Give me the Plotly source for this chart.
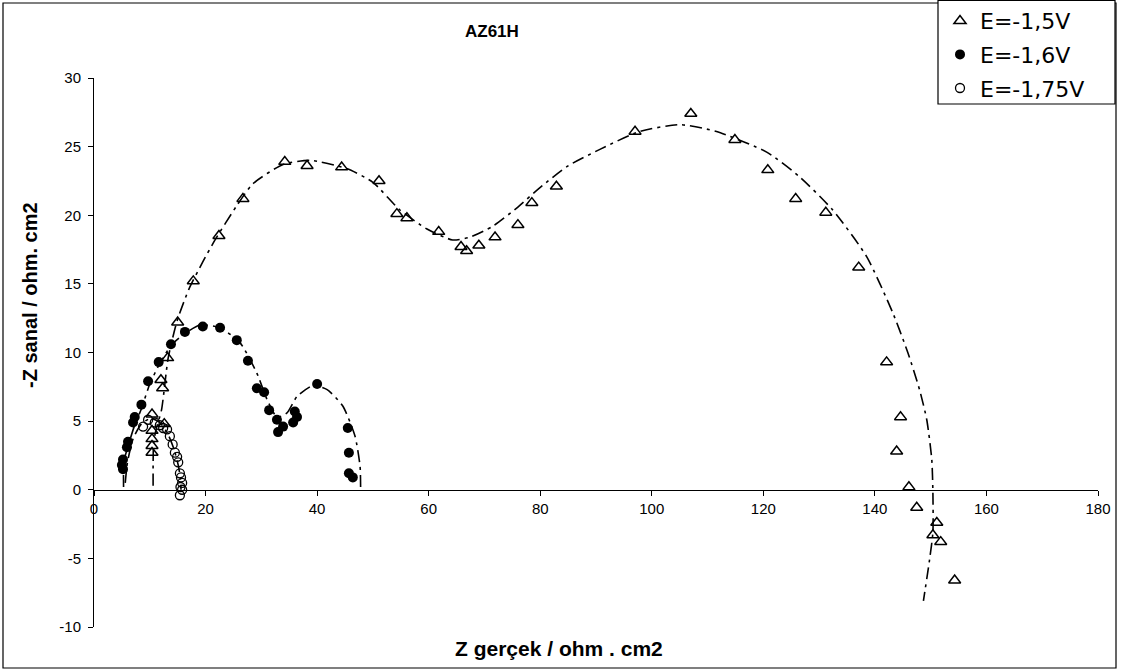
import plotly.graph_objects as go

# ---------------- data ----------------
# E = -1,5V  (open triangles)
tri_x = [10.4, 10.4, 10.4, 10.4, 10.4, 12.6, 12.3, 12.0, 13.2, 15.0, 17.8, 22.4, 26.7,
         34.2, 38.2, 44.4, 51.1, 54.3, 56.1, 61.8, 65.8, 66.8, 69.0, 71.9, 76.0, 78.5,
         82.9, 97.0, 107.0, 114.9, 120.8, 125.8, 131.2, 137.1, 142.1, 144.6, 143.9,
         146.1, 147.5, 151.1, 150.4, 151.8, 154.3]
tri_y = [2.7, 3.2, 3.7, 4.3, 5.5, 4.8, 7.4, 8.0, 9.6, 12.2, 15.2, 18.5, 21.2,
         23.9, 23.6, 23.5, 22.5, 20.1, 19.8, 18.8, 17.7, 17.4, 17.8, 18.4, 19.3, 20.9,
         22.1, 26.1, 27.4, 25.5, 23.3, 21.2, 20.2, 16.2, 9.3, 5.3, 2.8,
         0.2, -1.3, -2.4, -3.3, -3.8, -6.6]

# E = -1,6V  (filled circles)
fil_x = [5.2, 5.0, 5.2, 5.9, 6.1, 7.0, 7.3, 8.5, 9.7, 11.6, 13.8, 16.3, 19.5, 22.6,
         25.6, 27.6, 29.2, 30.5, 31.4, 32.8, 33.0, 33.9, 35.7, 36.4, 36.0, 40.0,
         45.5, 45.7, 45.7, 46.4]
fil_y = [1.5, 1.8, 2.2, 3.1, 3.5, 4.9, 5.3, 6.2, 7.9, 9.3, 10.6, 11.5, 11.9, 11.8,
         10.9, 9.4, 7.4, 7.1, 5.8, 5.1, 4.2, 4.6, 4.9, 5.3, 5.7, 7.7,
         4.5, 2.7, 1.2, 0.9]

# E = -1,75V (open circles)
opn_x = [8.8, 9.7, 10.9, 11.8, 12.4, 13.1, 13.6, 14.1, 14.5, 14.9, 15.1, 15.4, 15.6,
         15.8, 15.5, 15.8, 15.4]
opn_y = [4.6, 5.1, 4.9, 4.7, 4.5, 4.4, 3.9, 3.3, 2.7, 2.4, 2.0, 1.2, 0.9,
         0.5, 0.2, 0.0, -0.4]

# fitted curves (dash-dot lines)
fit1_x = [10.6, 10.6, 10.7, 11.2, 12.1, 13.3, 14.9, 17.0, 19.5, 21.7, 25.6, 28.5, 33.9,
          38.7, 45.3, 50.0, 54.8, 59.7, 64.3, 67.4, 71.5, 76.0, 79.9, 85.0, 90.7, 97.8,
          105.0, 111.6, 120.6, 126.5, 132.4, 138.5, 143.2, 145.9, 148.0, 149.3, 150.2,
          150.4, 150.4, 149.8, 148.7]
fit1_y = [0.3, 2.0, 3.5, 4.5, 5.8, 9.6, 12.3, 14.6, 16.6, 18.2, 20.7, 22.3, 23.7,
          24.0, 23.4, 22.4, 20.4, 19.0, 18.2, 18.4, 19.2, 20.6, 22.0, 23.6, 24.8, 26.1,
          26.6, 26.1, 24.6, 22.8, 20.4, 17.0, 12.9, 10.0, 7.3, 5.1, 2.2,
          -0.2, -3.1, -5.1, -8.1]

fit2_x = [5.3, 5.3, 5.5, 6.2, 7.2, 8.5, 10.0, 11.8, 13.8, 16.0, 19.0, 22.6, 26.2, 29.2,
          31.0, 32.8, 34.6, 36.4, 39.3, 41.8, 44.6, 46.8, 47.7, 47.8]
fit2_y = [0.2, 1.5, 2.3, 3.3, 4.6, 5.9, 7.7, 9.2, 10.5, 11.3, 12.0, 11.8, 10.7, 8.5,
          6.6, 5.3, 5.6, 6.8, 7.6, 7.3, 6.1, 3.9, 1.7, 0.1]

fit3_x = [5.6, 6.0, 7.0, 8.5, 10.2, 11.8, 13.2, 14.3, 15.1, 15.5, 15.6]
fit3_y = [0.5, 2.0, 3.7, 4.8, 5.2, 4.9, 4.1, 3.0, 1.8, 0.8, 0.0]

names = ["E=-1,5V", "E=-1,6V", "E=-1,75V"]
title_text = "AZ61H"
x_title = "Z gerçek / ohm . cm2"
y_title = "-Z sanal / ohm. cm2"
y_ticks = [-10, -5, 0, 5, 10, 15, 20, 25, 30]
y_ticklabels = ["-10", "-5", "0", "5", "10", "15", "20", "25", "30"]
x_ticks = [0, 20, 40, 60, 80, 100, 120, 140, 160, 180]

# ---------------- layout helpers ----------------
W, H = 1126, 671
ML, MR, MT, MB = 94, 28, 78, 44


def px(x):
    return (x - ML) / (W - ML - MR)


def py(y):
    return (H - MB - y) / (H - MT - MB)


FONT = "Liberation Sans, Arial, sans-serif"
DASH = "12px,5px,3px,5px"

fig = go.Figure()

for fx, fy in [(fit1_x, fit1_y), (fit2_x, fit2_y), (fit3_x, fit3_y)]:
    fig.add_trace(go.Scatter(
        x=fx, y=fy, mode="lines", showlegend=False, hoverinfo="skip",
        line=dict(color="black", width=1.6, dash=DASH, shape="spline", smoothing=0.6)))

fig.add_trace(go.Scatter(
    x=fil_x, y=fil_y, mode="markers", name=names[1], legendgroup="b", legendrank=2,
    marker=dict(symbol="circle", size=10, color="black", line=dict(width=0))))
fig.add_trace(go.Scatter(
    x=tri_x, y=tri_y, mode="markers", name=names[0], legendgroup="a", legendrank=1,
    marker=dict(symbol="triangle-up-open", size=10.5, color="black", line=dict(width=1.5))))
fig.add_trace(go.Scatter(
    x=opn_x, y=opn_y, mode="markers", name=names[2], legendgroup="c", legendrank=3,
    marker=dict(symbol="circle-open", size=9, color="black", line=dict(width=1.3))))

fig.update_layout(
    width=W, height=H,
    margin=dict(l=ML, r=MR, t=MT, b=MB, autoexpand=False),
    paper_bgcolor="white", plot_bgcolor="white",
    font=dict(family=FONT, color="black", size=15),
    showlegend=True,
    legend=dict(x=px(940), y=py(0), xanchor="left", yanchor="top",
                bgcolor="rgba(0,0,0,0)", borderwidth=0,
                font=dict(family="DejaVu Sans, sans-serif", size=22, color="black"),
                tracegroupgap=2, itemsizing="trace"),
    xaxis=dict(range=[0, 180], tickvals=x_ticks, showgrid=False, zeroline=False,
               showline=True, linecolor="black", linewidth=1,
               ticks="outside", ticklen=5, tickcolor="black",
               anchor="free", position=0.25,
               tickfont=dict(family=FONT, size=15, color="black")),
    yaxis=dict(range=[-10, 30], tickvals=y_ticks, ticktext=y_ticklabels,
               showgrid=False, zeroline=False,
               showline=True, linecolor="black", linewidth=1,
               ticks="outside", ticklen=5, tickcolor="black", ticklabelstandoff=4,
               tickfont=dict(family=FONT, size=15, color="black")),
    shapes=[
        dict(type="rect", xref="paper", yref="paper",
             x0=px(3), x1=px(1116), y0=py(668), y1=py(3),
             line=dict(color="black", width=1.2), fillcolor="rgba(0,0,0,0)", layer="below"),
        dict(type="rect", xref="paper", yref="paper",
             x0=px(938), x1=px(1115), y0=py(104), y1=py(0.5),
             line=dict(color="black", width=1.2), fillcolor="white", layer="above"),
    ],
    annotations=[
        dict(text="<b>%s</b>" % title_text, xref="paper", yref="paper",
             x=px(492), y=py(32), xanchor="center", yanchor="middle", showarrow=False,
             font=dict(family=FONT, size=17, color="black")),
        dict(text="<b>%s</b>" % x_title, xref="paper", yref="paper",
             x=px(559), y=py(648), xanchor="center", yanchor="middle", showarrow=False,
             font=dict(family=FONT, size=21, color="black")),
        dict(text="<b>%s</b>" % y_title, xref="paper", yref="paper",
             x=px(30), y=py(295), xanchor="center", yanchor="middle", showarrow=False,
             textangle=-90, font=dict(family=FONT, size=20, color="black")),
    ],
)

fig.write_html("out.html", config={"displayModeBar": False},
               post_script="document.body.style.margin='0';")
